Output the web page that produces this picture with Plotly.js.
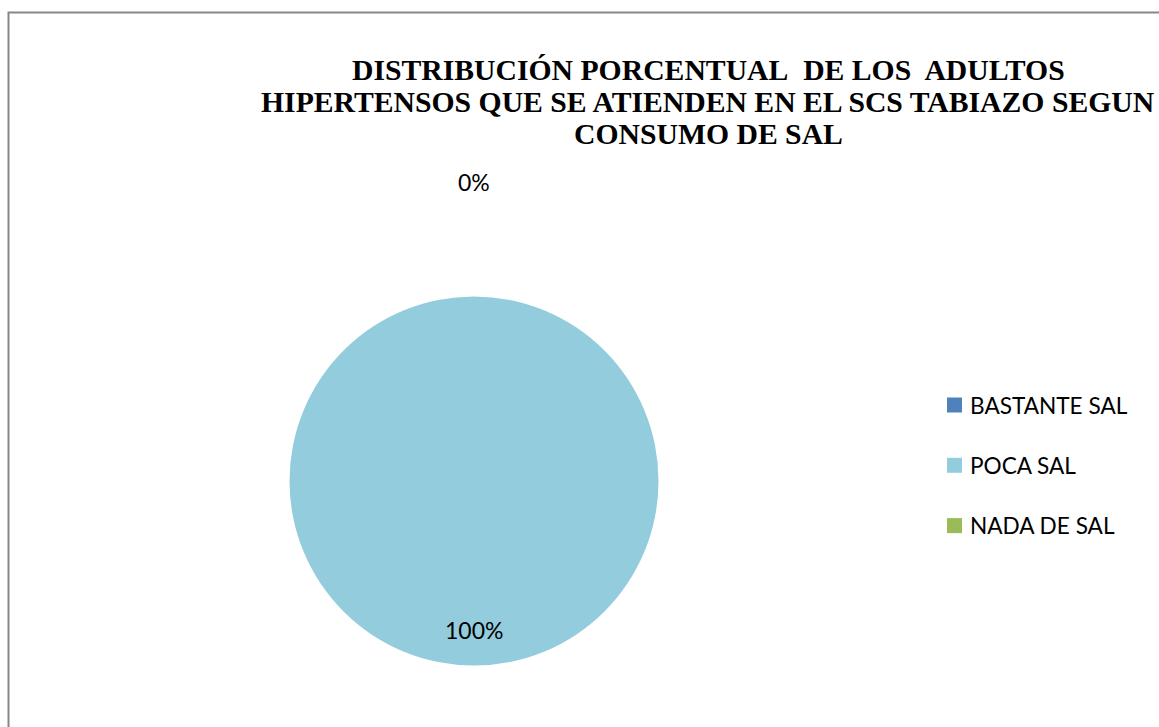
<!DOCTYPE html>
<html>
<head>
<meta charset="utf-8">
<script src="https://cdn.plot.ly/plotly-3.0.1.min.js"></script>
<style>html,body{margin:0;padding:0;background:#fff;}#chart{width:1159px;height:727px;}</style>
</head>
<body>
<div id="chart"></div>
<script>
// ---- data ----
var categories = ["BASTANTE SAL", "POCA SAL", "NADA DE SAL"];
var values = [0, 100, 0];
var colors = ["#4F81BD", "#93CDDD", "#9BBB59"];
var titleLines = [
  "DISTRIBUCI\u00d3N PORCENTUAL\u00a0 DE LOS\u00a0 ADULTOS",
  "HIPERTENSOS QUE SE ATIENDEN EN EL SCS TABIAZO SEGUN",
  "CONSUMO DE SAL"
];

// ---- layout helpers ----
var W = 1159, H = 727;
function px(x) { return x / W; }
function py(y) { return 1 - y / H; }

var cx = 474, cy = 481, R = 184.5;

var annotations = [];
var shapes = [];

// border
shapes.push({type: "rect", xref: "paper", yref: "paper",
  x0: px(8.5), x1: px(W + 20), y0: py(H + 20), y1: py(12.5),
  line: {color: "#878787", width: 2}, fillcolor: "rgba(0,0,0,0)"});

// title lines
var titleY = [70, 102, 134];
titleLines.forEach(function (t, i) {
  annotations.push({text: "<b>" + t + "</b>", xref: "paper", yref: "paper",
    x: px(708), y: py(titleY[i]), xanchor: "center", yanchor: "middle",
    showarrow: false,
    font: {family: "'Liberation Serif', 'Times New Roman', serif", size: 29.7, color: "#000"}});
});

// data labels (positions derived from pie geometry)
var total = values.reduce(function (a, b) { return a + b; }, 0);
var cum = 0;
var seen = {};
values.forEach(function (v, i) {
  var frac = v / total;
  var mid = (cum + frac / 2) * 2 * Math.PI; // clockwise from top
  cum += frac;
  var label = Math.round(frac * 100) + "%";
  var rf = frac > 0.5 ? 0.81 : 1.62;
  var lx = cx + Math.sin(mid) * R * rf;
  var ly = cy - Math.cos(mid) * R * rf;
  var key = Math.round(lx) + "," + Math.round(ly);
  if (seen[key]) return;
  seen[key] = true;
  annotations.push({text: label, xref: "paper", yref: "paper",
    x: px(lx), y: py(ly), xanchor: "center", yanchor: "middle", showarrow: false,
    font: {family: "Lato, Carlito, Calibri, sans-serif", size: 23, color: "#000"}});
});

// legend (manual)
var legY0 = 405, legDy = 60.3, sq = 15, legX = 947;
categories.forEach(function (c, i) {
  var yc = legY0 + i * legDy;
  shapes.push({type: "rect", xref: "paper", yref: "paper",
    x0: px(legX), x1: px(legX + sq), y0: py(yc + sq / 2), y1: py(yc - sq / 2),
    line: {width: 0}, fillcolor: colors[i]});
  annotations.push({text: c, xref: "paper", yref: "paper",
    x: px(968), y: py(yc), xanchor: "left", yanchor: "middle", showarrow: false,
    font: {family: "Lato, Carlito, Calibri, sans-serif", size: 22.6, color: "#000"}});
});

var trace = {
  type: "pie",
  labels: categories,
  values: values,
  sort: false,
  direction: "clockwise",
  rotation: 0,
  marker: {colors: colors, line: {width: 0}},
  textinfo: "none",
  hoverinfo: "label+percent",
  showlegend: false,
  domain: {x: [px(cx - R), px(cx + R)], y: [py(cy + R), py(cy - R)]}
};

var layout = {
  width: W, height: H,
  margin: {l: 0, r: 0, t: 0, b: 0},
  paper_bgcolor: "#fff",
  showlegend: false,
  shapes: shapes,
  annotations: annotations
};

Plotly.newPlot("chart", [trace], layout, {displayModeBar: false, staticPlot: true});
</script>
</body>
</html>
